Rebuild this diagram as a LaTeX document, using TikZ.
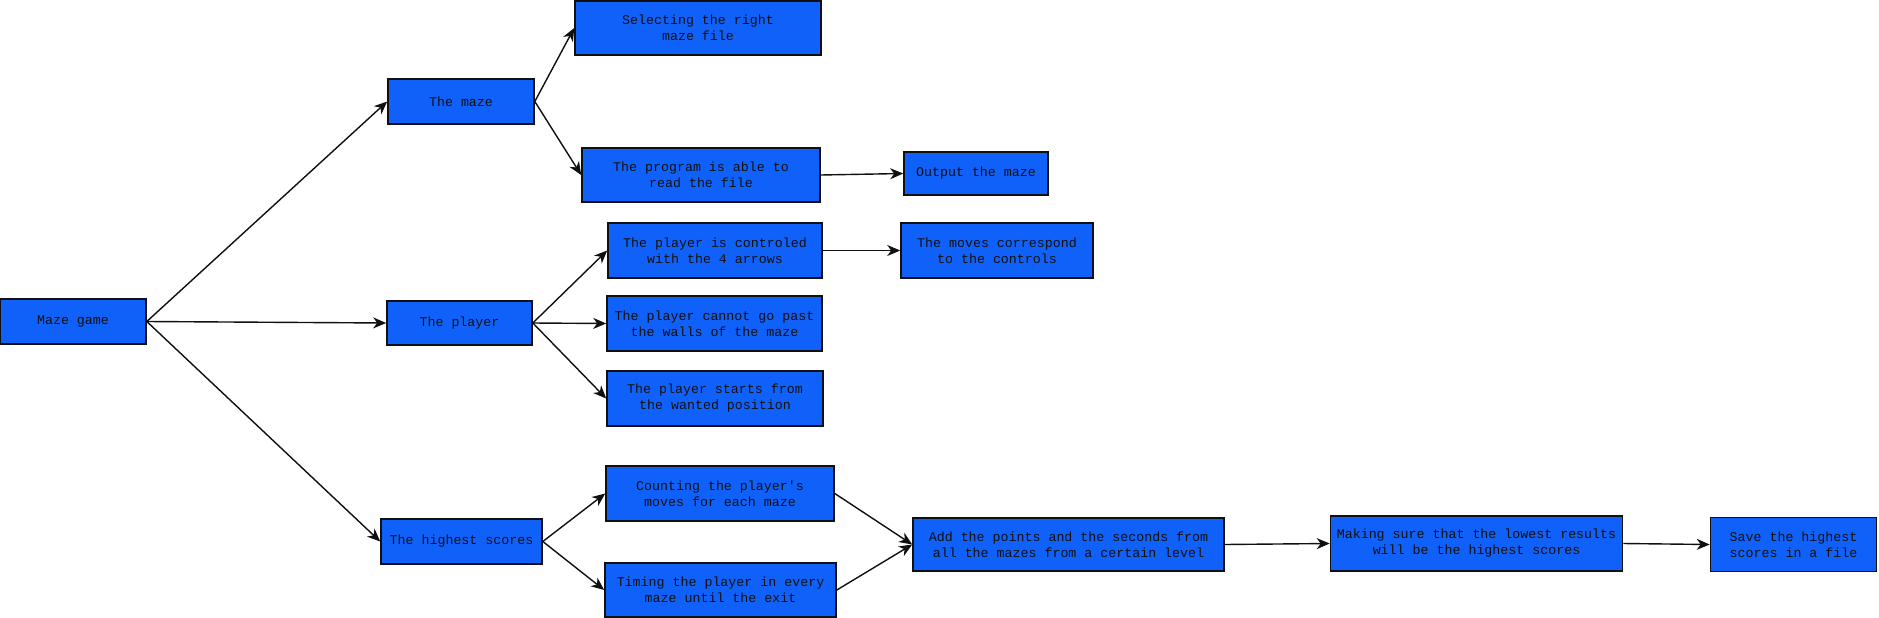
\documentclass[tikz,border=0pt]{standalone}
\usepackage{fontspec}
\setmonofont{Liberation Mono}
\usetikzlibrary{arrows.meta,positioning}
\definecolor{ink}{HTML}{101010}
\definecolor{boxblue}{HTML}{1061FA}
\tikzset{
  box/.style={draw=ink, line width=1.6pt, fill=boxblue, align=center, inner sep=2pt, font=\ttfamily\fontsize{13.3}{16}\selectfont, text=ink},
  arrow/.style={-{Stealth[length=13pt,width=11pt,inset=4pt]}, line width=1.4pt, draw=ink}
}
\begin{document}
\begin{tikzpicture}[x=1pt, y=-1pt]
\useasboundingbox (0,0) rectangle (1879,618);
% root
\node[box, minimum width=146pt, minimum height=45pt] (game) at (73,321.5) {Maze game};
% first level
\node[box, minimum width=146pt, minimum height=45pt] (maze) at (461,101.5) {The maze};
\node[box, minimum width=145pt, minimum height=44pt] (player) at (459.5,323) {The player};
\node[box, minimum width=161pt, minimum height=45pt] (scores) at (461.5,541.5) {The highest scores};
% the maze
\node[box, minimum width=246pt, minimum height=54pt] (select) at (698,28) {Selecting the right\\maze file};
\node[box, minimum width=238pt, minimum height=54pt] (read) at (701,175) {The program is able to\\read the file};
\node[box, minimum width=144pt, minimum height=43pt] (output) at (976,173.5) {Output the maze};
% the player
\node[box, minimum width=214pt, minimum height=55pt] (ctrl) at (715,250.5) {The player is controled\\with the 4 arrows};
\node[box, minimum width=192pt, minimum height=55pt] (moves) at (997,250.5) {The moves correspond\\to the controls};
\node[box, minimum width=215pt, minimum height=55pt] (walls) at (714.5,323.5) {The player cannot go past\\the walls of the maze};
\node[box, minimum width=216pt, minimum height=55pt] (start) at (715,398.5) {The player starts from\\the wanted position};
% the highest scores
\node[box, minimum width=228pt, minimum height=55pt] (count) at (720,493.5) {Counting the player's\\moves for each maze};
\node[box, minimum width=231pt, minimum height=54pt] (timing) at (720.5,590) {Timing the player in every\\maze until the exit};
\node[box, minimum width=311pt, minimum height=53pt] (add) at (1068.5,544.5) {Add the points and the seconds from\\all the mazes from a certain level};
\node[box, minimum width=292pt, minimum height=55pt] (sure) at (1476.5,543.5) {Making sure that the lowest results\\will be the highest scores};
\node[box, minimum width=166pt, minimum height=54pt] (save) at (1793.5,544.5) {Save the highest\\scores in a file};
% connectors
\draw[arrow] (game.east) -- (maze.west);
\draw[arrow] (game.east) -- (player.west);
\draw[arrow] (game.east) -- (scores.west);
\draw[arrow] (maze.east) -- (select.west);
\draw[arrow] (maze.east) -- (read.west);
\draw[arrow] (read.east) -- (output.west);
\draw[arrow] (player.east) -- (ctrl.west);
\draw[arrow] (player.east) -- (walls.west);
\draw[arrow] (player.east) -- (start.west);
\draw[arrow] (ctrl.east) -- (moves.west);
\draw[arrow] (scores.east) -- (count.west);
\draw[arrow] (scores.east) -- (timing.west);
\draw[arrow] (count.east) -- (add.west);
\draw[arrow] (timing.east) -- (add.west);
\draw[arrow] (add.east) -- (sure.west);
\draw[arrow] (sure.east) -- (save.west);
\end{tikzpicture}
\end{document}
